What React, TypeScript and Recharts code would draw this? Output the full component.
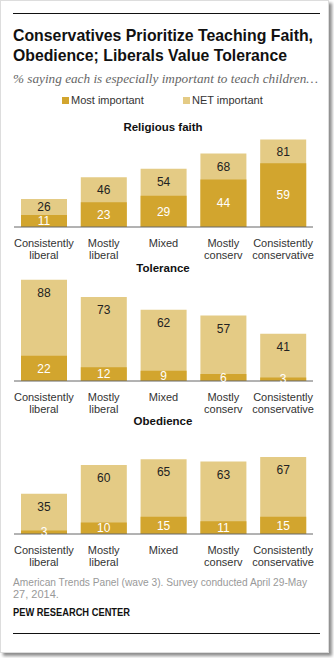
import React from 'react';
import { BarChart, Bar, XAxis, YAxis, LabelList } from 'recharts';

const categories = ['Consistently|liberal', 'Mostly|liberal', 'Mixed', 'Mostly|conserv', 'Consistently|conservative'];

const faithMost = [11, 23, 29, 44, 59];
const faithNet = [26, 46, 54, 68, 81];
const toleranceMost = [22, 12, 9, 6, 3];
const toleranceNet = [88, 73, 62, 57, 41];
const obedienceMost = [3, 10, 15, 11, 15];
const obedienceNet = [35, 60, 65, 63, 67];

const DARK = '#D2A52E';
const LIGHT = '#E4CB85';
const SANS = '"Liberation Sans", Arial, sans-serif';

const build = (most: number[], net: number[]) =>
  categories.map((c, i) => ({ cat: c, most: most[i], net: net[i] }));

const CatTick = (props: any) => {
  const { x, y, payload } = props;
  const lines = String(payload.value).split('|');
  return (
    <text x={x} y={y + 11.5} textAnchor="middle" fill="#333" fontSize={11} fontFamily={SANS}>
      {lines.map((l, i) => (
        <tspan key={i} x={x} dy={i === 0 ? 0 : 12}>{l}</tspan>
      ))}
    </text>
  );
};

interface PanelProps {
  title: string;
  top: number;
  plotHeight: number;
  most: number[];
  net: number[];
  titleTop: number;
}

const Panel: React.FC<PanelProps> = ({ title, top, plotHeight, most, net, titleTop }) => {
  const data = build(most, net);

  // NET label sits in the light part, never more than 13px under the bar top
  const netLabel = (p: any) => {
    const { x, y, width, height, index } = p;
    const share = most[index] / net[index];
    const seg = height * (1 - share);
    const cy = Math.min(y + seg / 2, y + 13);
    return (
      <text x={x + width / 2} y={cy} dy={4.2} textAnchor="middle" fill="#222" fontSize={12} fontFamily={SANS}>
        {net[index]}
      </text>
    );
  };

  const mostLabel = (p: any) => {
    const { x, y, width, height, index } = p;
    return (
      <text x={x + width / 2} y={y + height / 2} dy={4.2} textAnchor="middle" fill="#fff" fontSize={12} fontFamily={SANS}>
        {most[index]}
      </text>
    );
  };

  return (
    <>
      <div style={{ position: 'absolute', left: 0, width: 326, top: titleTop, textAlign: 'center', fontWeight: 'bold', fontSize: 11.5, fontFamily: SANS, color: '#111' }}>
        {title}
      </div>
      <div style={{ position: 'absolute', left: 0, top: top - 5 }}>
        <BarChart width={334} height={plotHeight + 40} data={data} margin={{ top: 5, right: 21, left: 14, bottom: 0 }} barSize={46} barGap={-46}>
          <XAxis dataKey="cat" tick={<CatTick />} tickLine={false} axisLine={{ stroke: '#666', strokeWidth: 1 }} interval={0} height={35} />
          <YAxis hide domain={[0, 100]} />
          <Bar dataKey="net" fill={LIGHT} isAnimationActive={false}>
            <LabelList dataKey="net" content={netLabel} />
          </Bar>
          <Bar dataKey="most" fill={DARK} isAnimationActive={false}>
            <LabelList dataKey="most" content={mostLabel} />
          </Bar>
        </BarChart>
      </div>
    </>
  );
};

const App: React.FC = () => {
  return (
    <div style={{ position: 'absolute', left: 0, top: 0, width: 334, height: 658, background: '#fff', fontFamily: SANS }}>
      <style>{'body{margin:0}'}</style>
      <div style={{ position: 'absolute', left: 0, top: 0, width: 327, height: 651, border: '1px solid #ddd', boxShadow: '3px 3px 3px rgba(0,0,0,0.45)', background: '#fff' }} />
      <div style={{ position: 'absolute', left: 13, top: 13, width: 307, height: 1, background: '#111' }} />

      {/* header and footer texts, stretched to the reference widths */}
      <svg width={334} height={658} style={{ position: 'absolute', left: 0, top: 0 }}>
        <g fontFamily={SANS} fontWeight="bold" fontSize={17} fill="#111">
          <text x={13} y={41} textLength={300} lengthAdjust="spacingAndGlyphs">Conservatives Prioritize Teaching Faith,</text>
          <text x={13} y={61} textLength={274} lengthAdjust="spacingAndGlyphs">Obedience; Liberals Value Tolerance</text>
        </g>
        <text x={13} y={83} textLength={305} lengthAdjust="spacingAndGlyphs" fontFamily='"Liberation Serif", Georgia, serif' fontStyle="italic" fontSize={13} fill="#666">
          % saying each is especially important to teach children…
        </text>
        <g fontFamily={SANS} fontSize={11} fill="#999">
          <text x={13} y={586} textLength={294} lengthAdjust="spacingAndGlyphs">American Trends Panel (wave 3). Survey conducted April 29-May</text>
          <text x={13} y={597.5}>27, 2014.</text>
        </g>
        <text x={13} y={616} textLength={117} lengthAdjust="spacingAndGlyphs" fontFamily={SANS} fontWeight="bold" fontSize={10} fill="#111">PEW RESEARCH CENTER</text>
      </svg>

      <div style={{ position: 'absolute', left: 62, top: 94, fontSize: 11, color: '#333', display: 'flex', alignItems: 'center' }}>
        <span style={{ display: 'inline-block', width: 7, height: 7, background: DARK, marginRight: 2 }} />
        Most important
      </div>
      <div style={{ position: 'absolute', left: 183, top: 94, fontSize: 11, color: '#333', display: 'flex', alignItems: 'center' }}>
        <span style={{ display: 'inline-block', width: 7, height: 7, background: LIGHT, marginRight: 2 }} />
        NET important
      </div>

      <Panel title="Religious faith" titleTop={121} top={119} plotHeight={108} most={faithMost} net={faithNet} />
      <Panel title="Tolerance" titleTop={262} top={266} plotHeight={115} most={toleranceMost} net={toleranceNet} />
      <Panel title="Obedience" titleTop={415} top={419} plotHeight={115} most={obedienceMost} net={obedienceNet} />

      <div style={{ position: 'absolute', left: 13, top: 633, width: 307, height: 1, background: '#111' }} />
    </div>
  );
};

export default App;
